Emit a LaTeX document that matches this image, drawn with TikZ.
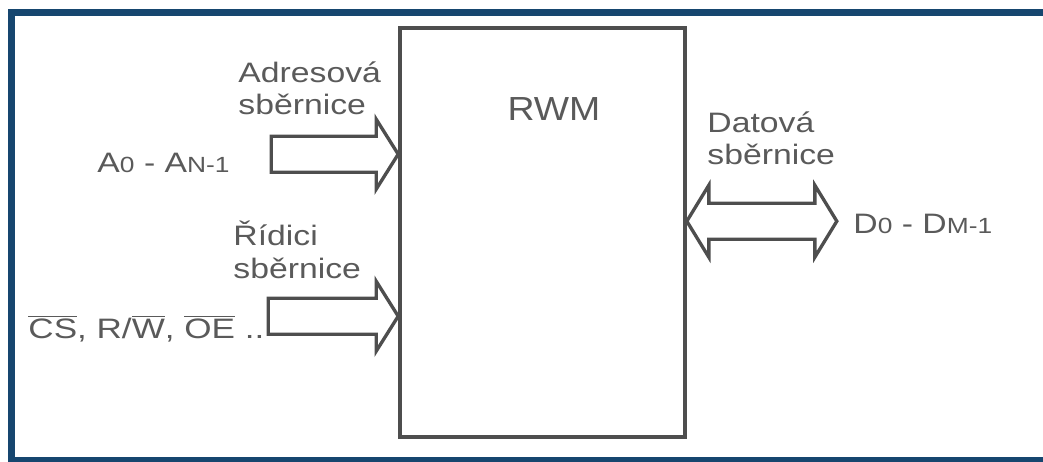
\documentclass[tikz,border=0pt]{standalone}
\usepackage{fontspec}
\setmainfont{Liberation Sans}
\usetikzlibrary{positioning,calc}
\definecolor{framebl}{HTML}{16466F}
\definecolor{inkgr}{HTML}{5A5A5A}
\definecolor{linegr}{HTML}{4E4E4E}
\newcommand{\idx}[1]{{\fontsize{12.5}{13}\selectfont #1}}
\newcommand{\negsig}[1]{$\overline{\mbox{#1}}$}

\begin{document}
\begin{tikzpicture}[x=0.02cm,y=-0.02cm,
        lbl/.style={inkgr,font=\fontsize{16}{18.7}\selectfont,inner sep=0pt},
        wide/.style={xscale=1.2},
        bus/.style={draw=linegr,line width=1.9pt,line join=miter,fill=white}]
        \useasboundingbox (0,0) rectangle (1043,461);
        % frame of the slide picture
        \draw[framebl,line width=4pt] (11.5,461) -- (11.5,12.5) -- (1043,12.5);
        \draw[framebl,line width=2.5pt] (8,459.5) -- (1043,459.5);
        % memory block
        \node[draw=linegr,line width=2.1pt,minimum width=5.7cm,minimum height=8.18cm,inner sep=0pt] (ram) at (542.5,232.5) {};
        \node[lbl,font=\fontsize{19}{22}\selectfont,xscale=1.12,anchor=base] (rwm) at (554,120) {RWM};
        % address bus
        \coordinate (atip) at ($(ram.north west)+(0,128)$);
        \draw[bus] (atip) -- ++(-22,-35) -- ++(0,17) -- ++(-105,0) -- ++(0,36) -- ++(105,0) -- ++(0,17) -- cycle;
        \node[lbl,wide,align=left,anchor=north west] (adrname) at (238,61) {Adresová\\sběrnice};
        \node[lbl,wide,anchor=base east] (adrsig) at (230,172) {A\idx{0} - A\idx{N-1}};
        % control bus
        \coordinate (ctip) at ($(ram.north west)+(0,290)$);
        \draw[bus] (ctip) -- ++(-22,-35) -- ++(0,17) -- ++(-108,0) -- ++(0,36) -- ++(108,0) -- ++(0,17) -- cycle;
        \node[lbl,wide,align=left,anchor=north west] (ctlname) at (233,221) {Řídici\\sběrnice};
        \node[lbl,wide,xscale=1.04,anchor=base west] (ctlsig) at (28,338) {\negsig{CS}, R/\negsig{W}, \negsig{OE} ..};
        % data bus
        \coordinate (dtip) at ($(ram.north east)+(0,195)$);
        \draw[bus] (dtip) -- ++(22,-36) -- ++(0,18) -- ++(106,0) -- ++(0,-18) -- ++(22,36) -- ++(-22,36)
            -- ++(0,-18) -- ++(-106,0) -- ++(0,18) -- cycle;
        \node[lbl,wide,align=left,anchor=north west] (datname) at (707,111) {Datová\\sběrnice};
        \node[lbl,wide,anchor=base west] (datsig) at (853,233) {D\idx{0} - D\idx{M-1}};
\end{tikzpicture}
\end{document}
